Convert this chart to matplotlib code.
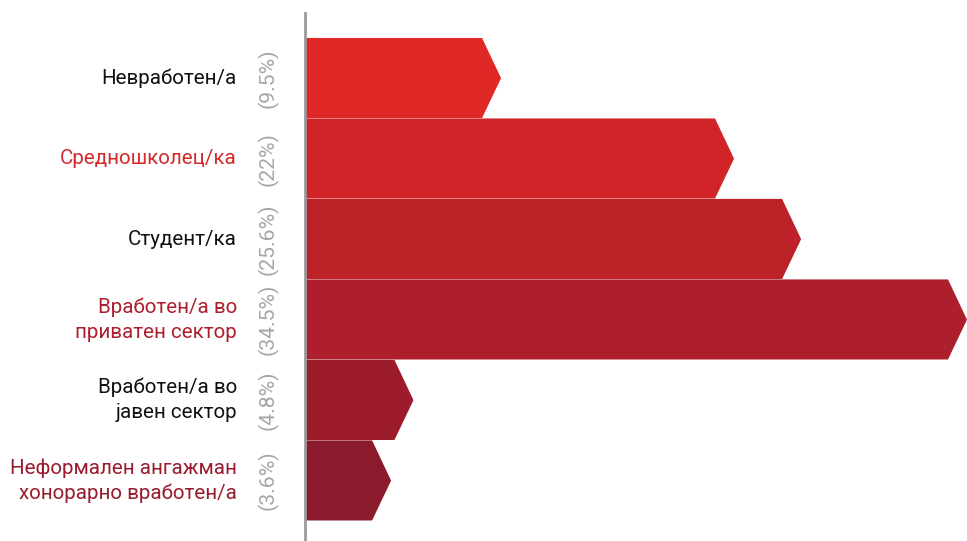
import matplotlib.pyplot as plt
from matplotlib.patches import Polygon
from matplotlib.transforms import blended_transform_factory

plt.rcParams['font.family'] = ['Roboto', 'DejaVu Sans']

# Податоци
categories = ['Невработен/а', 'Средношколец/ка', 'Студент/ка',
              'Вработен/а во\nприватен сектор', 'Вработен/а во\nјавен сектор',
              'Неформален ангажман\nхонорарно вработен/а']
values = [9.5, 22, 25.6, 34.5, 4.8, 3.6]
pct_labels = ['(9.5%)', '(22%)', '(25.6%)', '(34.5%)', '(4.8%)', '(3.6%)']

bar_colors = ['#e02827', '#d02428', '#be2229', '#ad1f2c', '#9c1c2b', '#8b1a2d']
label_colors = ['#111111', '#d42a2c', '#111111', '#ad1f2c', '#111111', '#991b2d']

fig = plt.figure(figsize=(9.67, 5.41), dpi=100)
ax = fig.add_axes([305 / 967, 0, 662 / 967, 1 - 13 / 541])

tip = 1.02  # длабочина на стрелката
for i, v in enumerate(values):
    top, bot = i - 0.5, i + 0.495
    pts = [(0, top), (v, top), (v + tip, i), (v, bot), (0, bot)]
    ax.add_patch(Polygon(pts, closed=True, facecolor=bar_colors[i], edgecolor='none'))

ax.set_xlim(0, 35.52)
ax.set_ylim(5.75, -0.81)

for s in ['top', 'right', 'bottom']:
    ax.spines[s].set_visible(False)
ax.spines['left'].set_color('#9a9a9a')
ax.spines['left'].set_linewidth(2)
ax.set_xticks([])
ax.set_yticks([])

trans = blended_transform_factory(ax.transAxes, ax.transData)
for i, (cat, pct) in enumerate(zip(categories, pct_labels)):
    ax.text(-0.103, i, cat, transform=trans, ha='right', va='center',
            fontsize=14.8, color=label_colors[i], linespacing=1.4)
    ax.text(-0.056, i, pct, transform=trans, ha='center', va='center',
            fontsize=15.3, color='#a6a6a6', rotation=90)

fig.savefig('out.png', dpi=100)
